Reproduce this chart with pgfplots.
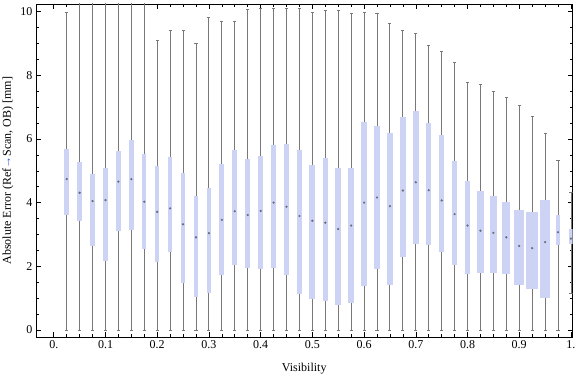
\documentclass[border=0pt]{standalone}
\usepackage{fontspec}
\setmainfont{Liberation Serif}
\usepackage{pgfplots}
\pgfplotsset{compat=1.18}
\usepgfplotslibrary{statistics}
\definecolor{boxfill}{RGB}{204,211,245}
\definecolor{whisk}{RGB}{120,120,120}
\definecolor{medc}{RGB}{105,105,120}
\definecolor{arrowblue}{RGB}{40,90,220}
\pgfplotsset{
  boxplot/draw direction=y,
  boxplot/every box/.style={fill=boxfill, draw=none},
  boxplot/every whisker/.style={whisk, line width=0.9pt},
  boxplot/every median/.style={draw=none},
}
\newcommand{\bx}[7]{\addplot[whisk, boxplot prepared={draw position=#1, lower whisker=#2, lower quartile=#3, median=#4, upper quartile=#5, upper whisker=#6, box extend=#7, whisker extend=0.006}] coordinates {};}
\begin{document}
\begin{tikzpicture}[font=\fontsize{12}{14}\selectfont]
\begin{axis}[
  at={(36pt,39.7pt)}, anchor=south west,
  scale only axis, width=536.5pt, height=333.3pt,
  xmin=-0.0344, xmax=1.003, ymin=-0.23, ymax=10.24,
  xtick={0,0.1,0.2,0.3,0.4,0.5,0.6,0.7,0.8,0.9,1},
  xticklabels={0.,0.1,0.2,0.3,0.4,0.5,0.6,0.7,0.8,0.9,1.},
  minor x tick num=3,
  ytick={0,2,4,6,8,10}, minor y tick num=3,
  tick align=inside,
  major tick length=5pt, minor tick length=3pt,
  tick style={black, line width=0.6pt},
  axis line style={line width=0.8pt},
  /pgf/number format/assume math mode=true,
  xlabel={Visibility},
  ylabel={Absolute Error (Ref{\color{arrowblue}→}Scan, OB) [mm]},
  x label style={at={(axis description cs:0.5,-0.093)}, anchor=center},
  y label style={at={(axis description cs:-0.0522,0.5)}, anchor=center},
]
\bx{0.025}{0}{3.61}{4.74}{5.69}{9.97}{0.0087}
\bx{0.05}{0}{3.43}{4.31}{5.28}{10.6}{0.0106}
\bx{0.075}{0}{2.65}{4.05}{4.91}{10.6}{0.0106}
\bx{0.1}{0}{2.18}{4.08}{5.09}{10.6}{0.0092}
\bx{0.125}{0}{3.10}{4.66}{5.62}{10.6}{0.0106}
\bx{0.15}{0}{3.15}{4.74}{5.96}{10.6}{0.0106}
\bx{0.175}{0}{2.55}{4.03}{5.52}{10.6}{0.0077}
\bx{0.2}{0}{2.13}{3.71}{5.15}{9.10}{0.0087}
\bx{0.225}{0}{2.46}{3.82}{5.44}{9.41}{0.0087}
\bx{0.25}{0}{1.49}{3.32}{4.93}{9.41}{0.0087}
\bx{0.275}{0}{1.05}{2.91}{4.21}{8.99}{0.0087}
\bx{0.3}{0}{1.17}{3.04}{4.46}{9.83}{0.0092}
\bx{0.325}{0}{1.74}{3.46}{5.22}{9.70}{0.0092}
\bx{0.35}{0}{2.04}{3.73}{5.65}{9.70}{0.0092}
\bx{0.375}{0}{1.96}{3.61}{5.37}{10.07}{0.0106}
\bx{0.4}{0}{1.93}{3.74}{5.47}{10.10}{0.0106}
\bx{0.425}{0}{1.96}{4.00}{5.81}{10.10}{0.0106}
\bx{0.45}{0}{1.74}{3.87}{5.84}{10.10}{0.0106}
\bx{0.475}{0}{1.14}{3.58}{5.65}{10.10}{0.0106}
\bx{0.5}{0}{0.98}{3.43}{5.18}{9.97}{0.0112}
\bx{0.525}{0}{0.92}{3.37}{5.40}{10.04}{0.0106}
\bx{0.55}{0}{0.80}{3.17}{5.09}{10.04}{0.0126}
\bx{0.575}{0}{0.86}{3.28}{5.09}{9.95}{0.0126}
\bx{0.6}{0}{1.39}{4.00}{6.53}{9.98}{0.0126}
\bx{0.625}{0}{1.90}{4.16}{6.41}{9.95}{0.0126}
\bx{0.65}{0}{1.42}{3.89}{6.19}{9.63}{0.0106}
\bx{0.675}{0}{2.30}{4.38}{6.69}{9.41}{0.0106}
\bx{0.7}{0}{2.71}{4.64}{6.88}{9.32}{0.0106}
\bx{0.725}{0}{2.68}{4.39}{6.50}{8.94}{0.0106}
\bx{0.75}{0}{2.46}{4.07}{6.13}{8.75}{0.0106}
\bx{0.775}{0}{2.05}{3.64}{5.31}{8.41}{0.0112}
\bx{0.8}{0}{1.77}{3.28}{4.68}{7.78}{0.0112}
\bx{0.825}{0}{1.80}{3.12}{4.37}{7.72}{0.0126}
\bx{0.85}{0}{1.80}{3.05}{4.21}{7.50}{0.0145}
\bx{0.875}{0}{1.77}{2.91}{4.02}{7.31}{0.0150}
\bx{0.9}{0}{1.41}{2.64}{3.77}{7.06}{0.0203}
\bx{0.925}{0}{1.29}{2.57}{3.71}{6.71}{0.0228}
\bx{0.95}{0}{1.02}{2.76}{4.08}{6.18}{0.0190}
\bx{0.975}{0}{2.67}{3.07}{3.61}{5.33}{0.0092}
\bx{1.0}{1.15}{2.70}{2.87}{3.17}{4.33}{0.0060}
\addplot[only marks, mark=*, mark size=0.9pt, color=medc] coordinates {
(0.025,4.74) (0.05,4.31) (0.075,4.05) (0.1,4.08) (0.125,4.66) (0.15,4.74)
(0.175,4.03) (0.2,3.71) (0.225,3.82) (0.25,3.32) (0.275,2.91) (0.3,3.04)
(0.325,3.46) (0.35,3.73) (0.375,3.61) (0.4,3.74) (0.425,4.00) (0.45,3.87)
(0.475,3.58) (0.5,3.43) (0.525,3.37) (0.55,3.17) (0.575,3.28) (0.6,4.00)
(0.625,4.16) (0.65,3.89) (0.675,4.38) (0.7,4.64) (0.725,4.39) (0.75,4.07)
(0.775,3.64) (0.8,3.28) (0.825,3.12) (0.85,3.05) (0.875,2.91) (0.9,2.64)
(0.925,2.57) (0.95,2.76) (0.975,3.07) (1.0,2.87)};
\end{axis}
\pgfresetboundingbox
\path[use as bounding box] (0,0) rectangle (576pt,377pt);
\end{tikzpicture}
\end{document}
